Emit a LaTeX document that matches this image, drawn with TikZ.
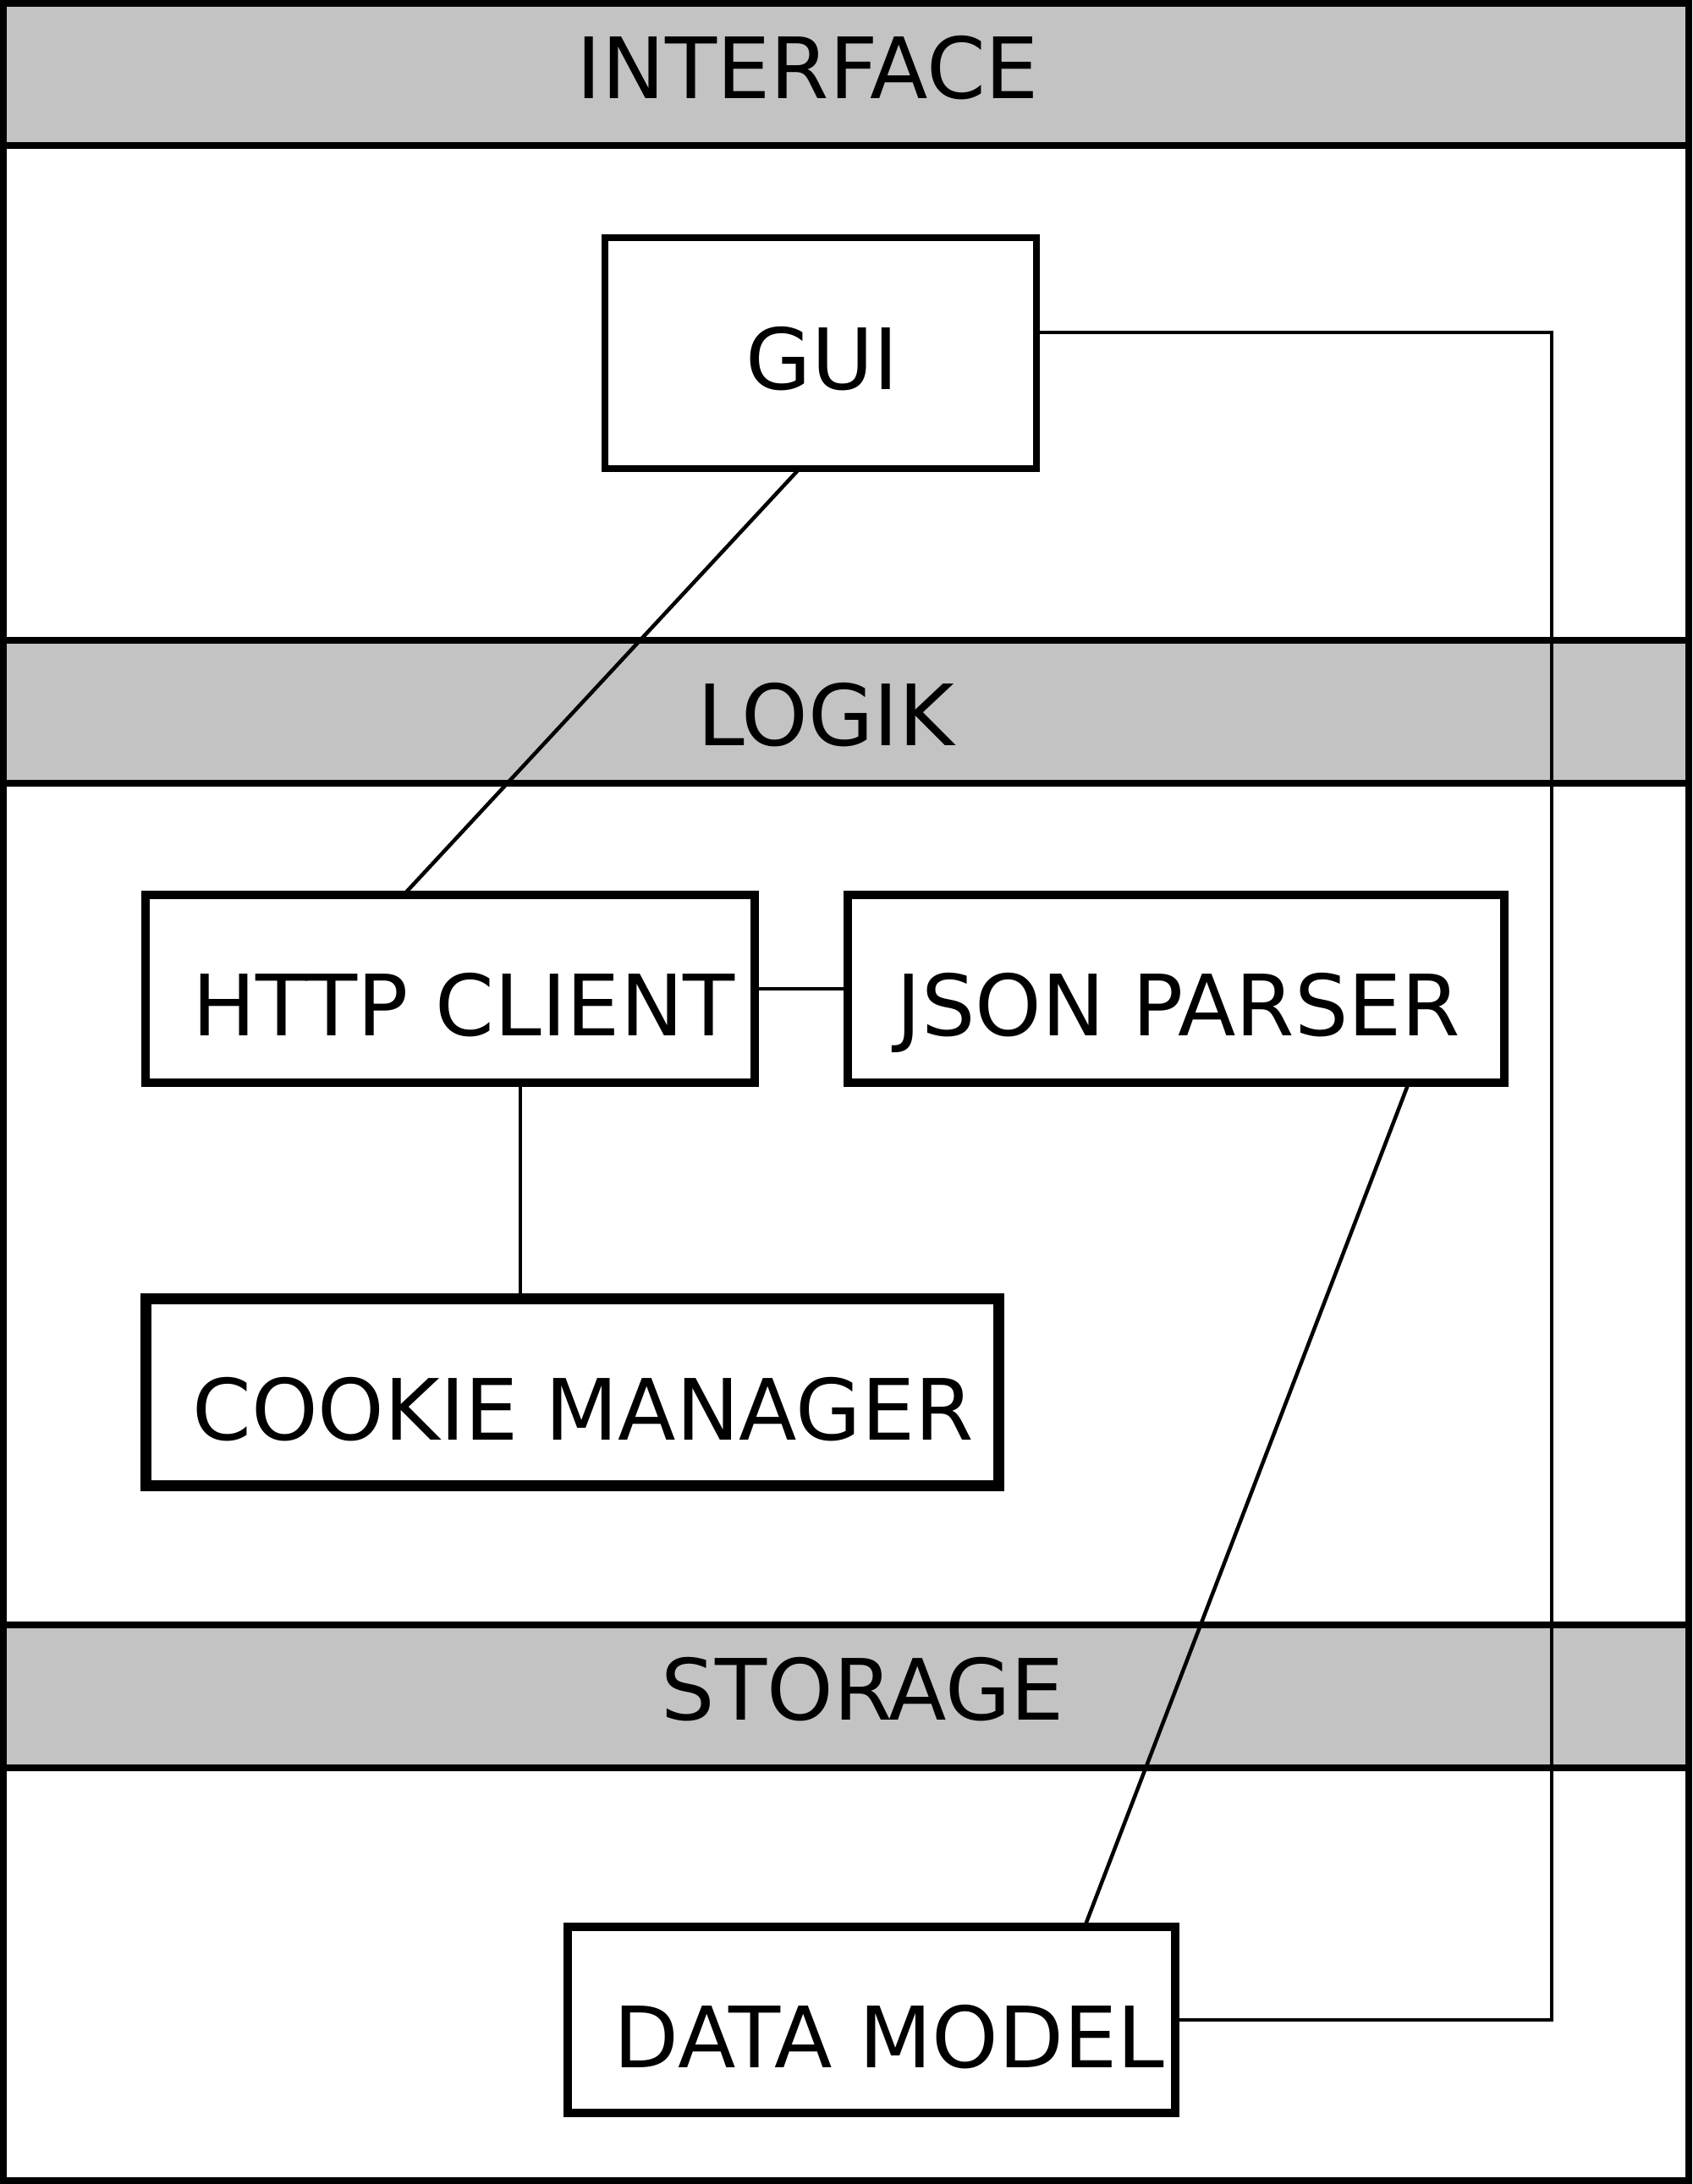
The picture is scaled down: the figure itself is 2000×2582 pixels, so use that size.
\documentclass[tikz,border=0pt]{standalone}
\usepackage{fontspec}
\setmainfont{DejaVu Sans}
\usetikzlibrary{calc}
\definecolor{bandgray}{RGB}{195,195,195}
\tikzset{
  frameline/.style={line width=8pt},
  bandline/.style={line width=8pt},
  conn/.style={line width=4.5pt},
  box/.style={draw, fill=white, rectangle, inner sep=0pt, outer sep=0pt},
  lbl/.style={inner sep=0pt, anchor=base, font=\fontsize{100pt}{120pt}\selectfont}
}
\begin{document}
\begin{tikzpicture}[x=1pt,y=-1pt]
\useasboundingbox (0,0) rectangle (2000,2582);
\fill[white] (0,0) rectangle (2000,2582);
% bands
\fill[bandgray] (4,4) rectangle (1996,172);
\fill[bandgray] (4,757) rectangle (1996,926);
\fill[bandgray] (4,1921) rectangle (1996,2090);
\foreach \yy in {172,757,926,1921,2090}
  \draw[bandline] (0,\yy) -- (2000,\yy);
\draw[frameline] (4,4) rectangle (1996,2578);
% band titles
\node[lbl] (tinterface) at (955,117) {INTERFACE};
\node[lbl] (tlogik) at (976,881) {LOGIK};
\node[lbl] (tstorage) at (1020,2033) {STORAGE};
% boxes
\node[box, line width=8pt, minimum width=510pt, minimum height=273pt] (gui) at (970,417.5) {};
\node[box, line width=10pt, minimum width=720pt, minimum height=222pt] (http) at (532,1169) {};
\node[box, line width=10pt, minimum width=776pt, minimum height=222pt] (json) at (1390,1169) {};
\node[box, line width=13pt, minimum width=1008pt, minimum height=221pt] (cookie) at (676,1645.5) {};
\node[box, line width=10pt, minimum width=718pt, minimum height=220pt] (dm) at (1030,2388) {};
% connectors
\coordinate (r1) at (1834,393);
\coordinate (r2) at (1834,2388);
\draw[conn] ([xshift=-25pt]gui.south) -- ([xshift=-55pt]http.north);
\draw[conn] ([yshift=24.5pt]gui.east) -- (r1) -- (r2) -- (dm.east);
\draw[conn] (http.east) -- (json.west);
\draw[conn] ([xshift=83pt]http.south) -- ([xshift=-61pt]cookie.north);
\draw[conn] ([xshift=275pt]json.south) -- ([xshift=252pt]dm.north);
% redraw box borders on top
\node[box, line width=8pt, minimum width=510pt, minimum height=273pt, fill=none] (guiB) at (gui) {};
\node[box, line width=10pt, minimum width=720pt, minimum height=222pt, fill=none] (httpB) at (http) {};
\node[box, line width=10pt, minimum width=776pt, minimum height=222pt, fill=none] (jsonB) at (json) {};
\node[box, line width=13pt, minimum width=1008pt, minimum height=221pt, fill=none] (cookieB) at (cookie) {};
\node[box, line width=10pt, minimum width=718pt, minimum height=220pt, fill=none] (dmB) at (dm) {};
% box labels
\node[lbl] (tgui) at (972,460) {GUI};
\node[lbl] (thttp) at (548,1224) {HTTP CLIENT};
\node[lbl] (tjson) at (1393,1224) {JSON PARSER};
\node[lbl] (tcookie) at (689,1702) {COOKIE MANAGER};
\node[lbl] (tdm) at (1051,2444) {DATA MODEL};
\end{tikzpicture}
\end{document}
